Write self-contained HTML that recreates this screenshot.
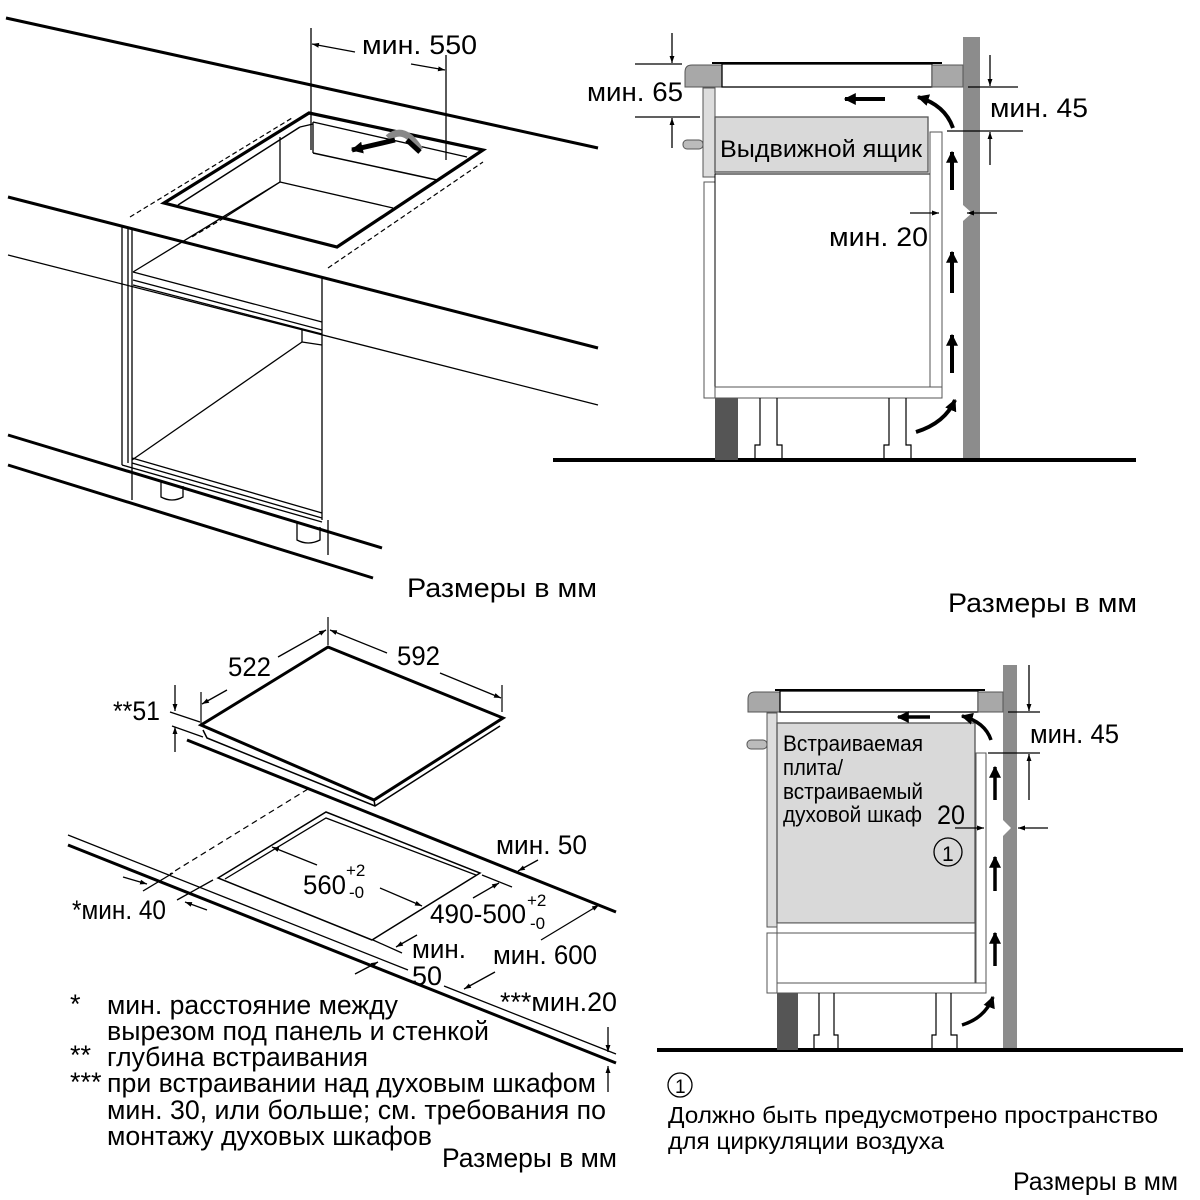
<!DOCTYPE html>
<html><head><meta charset="utf-8"><style>
html,body{margin:0;padding:0;background:#fff;}
svg{display:block;}
text{font-family:"Liberation Sans","DejaVu Sans",sans-serif;fill:#000;}
</style></head><body>
<svg width="1200" height="1200" viewBox="0 0 1200 1200" xmlns="http://www.w3.org/2000/svg">
<defs>
<marker id="a" viewBox="0 0 10 10" refX="10" refY="5" markerWidth="7" markerHeight="7" markerUnits="userSpaceOnUse" orient="auto"><path d="M0,1.5 L10,5 L0,8.5 z" fill="#000"/></marker>
<marker id="b" viewBox="0 0 10 10" refX="9" refY="5" markerWidth="12" markerHeight="12" markerUnits="userSpaceOnUse" orient="auto"><path d="M0,0 L10,5 L0,10 z" fill="#000"/></marker>
</defs>
<g fill="none" stroke="#000" stroke-linecap="butt">
<line x1="6" y1="18" x2="598" y2="148" stroke-width="3"/>
<line x1="8" y1="197" x2="598" y2="348" stroke-width="3"/>
<line x1="8" y1="255" x2="598" y2="405" stroke-width="1.3"/>
<line x1="8" y1="435" x2="382" y2="548" stroke-width="3"/>
<line x1="8" y1="465" x2="373" y2="578" stroke-width="3"/>
<polygon points="164,203 309,113 483,150 337,247" stroke-width="3.2" fill="#fff"/>
<line x1="178" y1="205" x2="300" y2="127" stroke-width="1.5"/>
<line x1="313" y1="122" x2="467" y2="157" stroke-width="1.3"/>
<line x1="313" y1="153" x2="437" y2="180" stroke-width="1.5"/>
<line x1="313" y1="122" x2="313" y2="153" stroke-width="1.3"/>
<line x1="300" y1="127" x2="313" y2="124" stroke-width="1.3"/>
<line x1="280" y1="137" x2="280" y2="182" stroke-width="1.3"/>
<line x1="280" y1="182" x2="393" y2="208" stroke-width="1.3"/>
<line x1="280" y1="182" x2="224" y2="218" stroke-width="1.3"/>
<line x1="224" y1="218" x2="190" y2="238" stroke-width="1.3" stroke-dasharray="5,3"/>
<line x1="130" y1="217" x2="292" y2="118" stroke-width="1.2" stroke-dasharray="5,3"/>
<line x1="328" y1="268" x2="483" y2="162" stroke-width="1.2" stroke-dasharray="5,3"/>
<line x1="311" y1="28" x2="311" y2="150" stroke-width="1.3"/>
<line x1="446" y1="55" x2="446" y2="160" stroke-width="1.3"/>
<line x1="355" y1="52" x2="312" y2="44" stroke-width="1.3" marker-end="url(#a)"/>
<line x1="411" y1="64" x2="445" y2="70" stroke-width="1.3" marker-end="url(#a)"/>
<path d="M388,138 Q404,124 420,150" stroke="#888" stroke-width="7"/>
<path d="M407,140 L420,152" stroke="#000" stroke-width="5"/>
<line x1="395" y1="140" x2="352" y2="150" stroke-width="5" marker-end="url(#b)"/>
<line x1="122" y1="225" x2="122" y2="465" stroke-width="1.3"/>
<line x1="128" y1="227" x2="128" y2="463" stroke-width="1.3"/>
<line x1="132" y1="228" x2="132" y2="500" stroke-width="1.3"/>
<line x1="322" y1="278" x2="322" y2="520" stroke-width="1.3"/>
<line x1="328" y1="520" x2="328" y2="555" stroke-width="1.3"/>
<line x1="133" y1="272" x2="322" y2="322" stroke-width="1.3"/>
<line x1="133" y1="280" x2="322" y2="330" stroke-width="1.3"/>
<line x1="133" y1="285" x2="322" y2="334" stroke-width="1.3"/>
<line x1="133" y1="272" x2="280" y2="182" stroke-width="1.3"/>
<line x1="302" y1="330" x2="302" y2="342" stroke-width="1.3"/>
<line x1="302" y1="342" x2="322" y2="345" stroke-width="1.3"/>
<line x1="132" y1="460" x2="302" y2="342" stroke-width="1.3"/>
<line x1="132" y1="458" x2="322" y2="513" stroke-width="1.3"/>
<line x1="132" y1="463" x2="322" y2="518" stroke-width="1.3"/>
<line x1="122" y1="465" x2="322" y2="522" stroke-width="1.3"/>
<path d="M161,482 L161,497 Q172,503 183,497 L183,486" stroke-width="1.3"/>
<path d="M297,523 L297,540 Q308,546 320,540 L320,527" stroke-width="1.3"/>

<rect x="963" y="37" width="17" height="423" fill="#8c8c8c" stroke="none"/>
<polygon points="963,205 972,213 963,221" fill="#fff" stroke="none"/>
<line x1="553" y1="460" x2="1136" y2="460" stroke-width="4"/>
<path d="M692,65 L722,65 L722,87 L685,87 L685,72 Q685,65 692,65 z" fill="#a8a8a8" stroke="#555" stroke-width="1"/>
<rect x="722" y="64" width="210" height="23" fill="#fff" stroke="#000" stroke-width="1.3"/>
<line x1="712" y1="63" x2="942" y2="63" stroke-width="2"/>
<rect x="932" y="65" width="31" height="22" fill="#a8a8a8" stroke="#555" stroke-width="1"/>
<rect x="703" y="88" width="12" height="89" fill="#ddd" stroke="#555" stroke-width="1"/>
<rect x="683" y="140" width="20" height="9" rx="4" fill="#bbb" stroke="#555" stroke-width="1"/>
<rect x="715" y="117" width="213" height="55" fill="#d9d9d9" stroke="#555" stroke-width="1.3"/>
<line x1="715" y1="174" x2="930" y2="174" stroke-width="1"/>
<rect x="704" y="182" width="11" height="216" fill="#fff" stroke="#555" stroke-width="1"/>
<line x1="715" y1="174" x2="715" y2="387" stroke-width="1"/>
<rect x="930" y="132" width="12" height="266" fill="#fff" stroke="#555" stroke-width="1"/>
<rect x="715" y="387" width="227" height="11" fill="#fff" stroke="#555" stroke-width="1"/>
<rect x="715" y="398" width="23" height="62" fill="#555" stroke="none"/>
<path d="M760,398 L760,445 L755,445 L755,460 M777,398 L777,445 L782,445 L782,460" stroke-width="1.2"/>
<path d="M889,398 L889,445 L884,445 L884,460 M906,398 L906,445 L911,445 L911,460" stroke-width="1.2"/>
<line x1="885" y1="99" x2="845" y2="99" stroke-width="4" marker-end="url(#b)"/>
<path d="M953,128 Q945,105 918,97" stroke-width="4" marker-end="url(#b)"/>
<line x1="952" y1="190" x2="952" y2="152" stroke-width="4" marker-end="url(#b)"/>
<line x1="952" y1="293" x2="952" y2="252" stroke-width="4" marker-end="url(#b)"/>
<line x1="952" y1="373" x2="952" y2="335" stroke-width="4" marker-end="url(#b)"/>
<path d="M916,432 Q945,423 955,400" stroke-width="4" marker-end="url(#b)"/>
<line x1="635" y1="64" x2="682" y2="64" stroke-width="1.3"/>
<line x1="635" y1="117" x2="700" y2="117" stroke-width="1.3"/>
<line x1="672" y1="33" x2="672" y2="63" stroke-width="1.3" marker-end="url(#a)"/>
<line x1="672" y1="148" x2="672" y2="118" stroke-width="1.3" marker-end="url(#a)"/>
<line x1="968" y1="87" x2="1018" y2="87" stroke-width="1.3"/>
<line x1="947" y1="131" x2="1023" y2="131" stroke-width="1.3"/>
<line x1="990" y1="55" x2="990" y2="86" stroke-width="1.3" marker-end="url(#a)"/>
<line x1="990" y1="165" x2="990" y2="132" stroke-width="1.3" marker-end="url(#a)"/>
<line x1="910" y1="213" x2="939" y2="213" stroke-width="1.3" marker-end="url(#a)"/>
<line x1="997" y1="213" x2="967" y2="213" stroke-width="1.3" marker-end="url(#a)"/>

<polygon points="201,725 328,647 503,718 374,800" fill="#fff" stroke-width="3"/>
<path d="M203,730 L207,738 L375,806 L500,726" stroke-width="1.5"/>
<line x1="374" y1="800" x2="375" y2="806" stroke-width="1.5"/>
<line x1="187" y1="740" x2="616" y2="912" stroke-width="3"/>
<line x1="308" y1="789" x2="170" y2="874" stroke-width="1.2" stroke-dasharray="6,4"/>
<line x1="201" y1="692" x2="201" y2="725" stroke-width="1.2"/>
<line x1="328" y1="617" x2="328" y2="645" stroke-width="1.2"/>
<line x1="502" y1="685" x2="502" y2="712" stroke-width="1.2"/>
<line x1="227" y1="690" x2="202" y2="704" stroke-width="1.3" marker-end="url(#a)"/>
<line x1="278" y1="657" x2="326" y2="630" stroke-width="1.3" marker-end="url(#a)"/>
<line x1="387" y1="653" x2="330" y2="630" stroke-width="1.3" marker-end="url(#a)"/>
<line x1="440" y1="673" x2="501" y2="698" stroke-width="1.3" marker-end="url(#a)"/>
<line x1="175" y1="685" x2="175" y2="711" stroke-width="1.3" marker-end="url(#a)"/>
<line x1="175" y1="752" x2="175" y2="727" stroke-width="1.3" marker-end="url(#a)"/>
<line x1="170" y1="712" x2="200" y2="722" stroke-width="1.3"/>
<line x1="172" y1="726" x2="203" y2="737" stroke-width="1.3"/>
<line x1="68" y1="835" x2="408" y2="970" stroke-width="1.3"/>
<line x1="444" y1="986" x2="616" y2="1054" stroke-width="1.3"/>
<line x1="68" y1="845" x2="616" y2="1063" stroke-width="3"/>
<polygon points="218,878 326,812 480,873 372,940" fill="#fff" stroke-width="1.5"/>
<polyline points="225,879 326,818 476,875" stroke-width="1.3"/>
<line x1="143" y1="891" x2="173" y2="873" stroke-width="1.3"/>
<line x1="177" y1="900" x2="213" y2="880" stroke-width="1.3"/>
<line x1="123" y1="877" x2="147" y2="884" stroke-width="1.3" marker-end="url(#a)"/>
<line x1="207" y1="910" x2="185" y2="902" stroke-width="1.3" marker-end="url(#a)"/>
<line x1="317" y1="865" x2="272" y2="847" stroke-width="1.3" marker-end="url(#a)"/>
<line x1="380" y1="888" x2="422" y2="906" stroke-width="1.3" marker-end="url(#a)"/>
<line x1="482" y1="875" x2="512" y2="887" stroke-width="1.3"/>
<line x1="373" y1="940" x2="402" y2="953" stroke-width="1.3"/>
<line x1="473" y1="898" x2="499" y2="883" stroke-width="1.3" marker-end="url(#a)"/>
<line x1="417" y1="935" x2="396" y2="947" stroke-width="1.3" marker-end="url(#a)"/>
<line x1="538" y1="860" x2="518" y2="871" stroke-width="1.3" marker-end="url(#a)"/>
<line x1="541" y1="940" x2="599" y2="905" stroke-width="1.3" marker-end="url(#a)"/>
<line x1="495" y1="972" x2="464" y2="989" stroke-width="1.3" marker-end="url(#a)"/>
<line x1="355" y1="974" x2="378" y2="962" stroke-width="1.3" marker-end="url(#a)"/>
<line x1="608" y1="1027" x2="608" y2="1052" stroke-width="1.3" marker-end="url(#a)"/>
<line x1="608" y1="1092" x2="608" y2="1066" stroke-width="1.3" marker-end="url(#a)"/>

<rect x="1003" y="665" width="14" height="385" fill="#8c8c8c" stroke="none"/>
<polygon points="1003,820 1011,828 1003,836" fill="#fff" stroke="none"/>
<line x1="657" y1="1050" x2="1183" y2="1050" stroke-width="4"/>
<path d="M755,692 L780,692 L780,712 L748,712 L748,699 Q748,692 755,692 z" fill="#a8a8a8" stroke="#555" stroke-width="1"/>
<rect x="780" y="691" width="198" height="21" fill="#fff" stroke="#000" stroke-width="1.3"/>
<line x1="775" y1="690" x2="985" y2="690" stroke-width="2"/>
<rect x="978" y="692" width="25" height="20" fill="#a8a8a8" stroke="#555" stroke-width="1"/>
<rect x="767" y="713" width="10" height="214" fill="#ddd" stroke="#555" stroke-width="1"/>
<rect x="747" y="740" width="20" height="9" rx="4" fill="#bbb" stroke="#555" stroke-width="1"/>
<rect x="777" y="723" width="198" height="200" fill="#d9d9d9" stroke="#555" stroke-width="1.3"/>
<rect x="777" y="923" width="198" height="10" fill="#fff" stroke="#555" stroke-width="1"/>
<rect x="767" y="933" width="10" height="60" fill="#fff" stroke="#555" stroke-width="1"/>
<rect x="777" y="933" width="198" height="50" fill="#fff" stroke="#555" stroke-width="1"/>
<rect x="976" y="753" width="10" height="230" fill="#fff" stroke="#555" stroke-width="1"/>
<rect x="777" y="983" width="209" height="10" fill="#fff" stroke="#555" stroke-width="1"/>
<rect x="777" y="993" width="21" height="57" fill="#555" stroke="none"/>
<path d="M819,993 L819,1035 L814,1035 L814,1050 M834,993 L834,1035 L838,1035 L838,1050" stroke-width="1.2"/>
<path d="M936,993 L936,1035 L932,1035 L932,1050 M951,993 L951,1035 L957,1035 L957,1050" stroke-width="1.2"/>
<line x1="930" y1="717" x2="898" y2="717" stroke-width="3.5" marker-end="url(#b)"/>
<path d="M991,740 Q985,722 962,716" stroke-width="3.5" marker-end="url(#b)"/>
<line x1="995" y1="800" x2="995" y2="767" stroke-width="3.5" marker-end="url(#b)"/>
<line x1="995" y1="891" x2="995" y2="857" stroke-width="3.5" marker-end="url(#b)"/>
<line x1="995" y1="966" x2="995" y2="933" stroke-width="3.5" marker-end="url(#b)"/>
<path d="M962,1025 Q985,1018 993,997" stroke-width="3.5" marker-end="url(#b)"/>
<line x1="1008" y1="712" x2="1040" y2="712" stroke-width="1.3"/>
<line x1="988" y1="753" x2="1040" y2="753" stroke-width="1.3"/>
<line x1="1029" y1="665" x2="1029" y2="711" stroke-width="1.3" marker-end="url(#a)"/>
<line x1="1029" y1="800" x2="1029" y2="754" stroke-width="1.3" marker-end="url(#a)"/>
<line x1="955" y1="828" x2="984" y2="828" stroke-width="1.3" marker-end="url(#a)"/>
<line x1="1048" y1="828" x2="1018" y2="828" stroke-width="1.3" marker-end="url(#a)"/>
<circle cx="948" cy="852" r="14" stroke-width="1.3"/>
<circle cx="680" cy="1085" r="12" stroke-width="1.3"/>
</g>

<g font-size="27">
<text x="362" y="54" textLength="115" lengthAdjust="spacingAndGlyphs">мин. 550</text>
<text x="407" y="597" textLength="190" lengthAdjust="spacingAndGlyphs">Размеры в мм</text>
<text x="587" y="101" textLength="96" lengthAdjust="spacingAndGlyphs">мин. 65</text>
<text x="990" y="117" textLength="98" lengthAdjust="spacingAndGlyphs">мин. 45</text>
<text x="829" y="246" textLength="99" lengthAdjust="spacingAndGlyphs">мин. 20</text>
<text x="720" y="157" font-size="24" textLength="202" lengthAdjust="spacingAndGlyphs">Выдвижной ящик</text>
<text x="948" y="612" textLength="189" lengthAdjust="spacingAndGlyphs">Размеры в мм</text>

<text x="113" y="720" textLength="47" lengthAdjust="spacingAndGlyphs">**51</text>
<text x="228" y="676" textLength="43" lengthAdjust="spacingAndGlyphs">522</text>
<text x="397" y="665" textLength="43" lengthAdjust="spacingAndGlyphs">592</text>
<text x="496" y="854" textLength="91" lengthAdjust="spacingAndGlyphs">мин. 50</text>
<text x="303" y="894" textLength="43" lengthAdjust="spacingAndGlyphs">560</text>
<text x="346" y="876" font-size="17">+2</text>
<text x="349" y="898" font-size="17">-0</text>
<text x="430" y="923" textLength="96" lengthAdjust="spacingAndGlyphs">490-500</text>
<text x="527" y="906" font-size="17">+2</text>
<text x="530" y="929" font-size="17">-0</text>
<text x="72" y="919" textLength="94" lengthAdjust="spacingAndGlyphs">*мин. 40</text>
<text x="412" y="958" textLength="54" lengthAdjust="spacingAndGlyphs">мин.</text>
<text x="412" y="985" textLength="30" lengthAdjust="spacingAndGlyphs">50</text>
<text x="493" y="964" textLength="104" lengthAdjust="spacingAndGlyphs">мин. 600</text>
<text x="500" y="1011" textLength="117" lengthAdjust="spacingAndGlyphs">***мин.20</text>

<text x="70" y="1013">*</text>
<text x="107" y="1014" textLength="291" lengthAdjust="spacingAndGlyphs">мин. расстояние между</text>
<text x="107" y="1040" textLength="382" lengthAdjust="spacingAndGlyphs">вырезом под панель и стенкой</text>
<text x="70" y="1064">**</text>
<text x="107" y="1066" textLength="261" lengthAdjust="spacingAndGlyphs">глубина встраивания</text>
<text x="70" y="1091">***</text>
<text x="107" y="1092" textLength="489" lengthAdjust="spacingAndGlyphs">при встраивании над духовым шкафом</text>
<text x="107" y="1119" textLength="499" lengthAdjust="spacingAndGlyphs">мин. 30, или больше; см. требования по</text>
<text x="107" y="1145" textLength="325" lengthAdjust="spacingAndGlyphs">монтажу духовых шкафов</text>
<text x="442" y="1167" textLength="175" lengthAdjust="spacingAndGlyphs">Размеры в мм</text>

<text x="1030" y="743" textLength="89" lengthAdjust="spacingAndGlyphs">мин. 45</text>
<g font-size="22">
<text x="783" y="751" textLength="140" lengthAdjust="spacingAndGlyphs">Встраиваемая</text>
<text x="783" y="775" textLength="60" lengthAdjust="spacingAndGlyphs">плита/</text>
<text x="783" y="799" textLength="140" lengthAdjust="spacingAndGlyphs">встраиваемый</text>
<text x="783" y="822" textLength="139" lengthAdjust="spacingAndGlyphs">духовой шкаф</text>
</g>
<text x="937" y="824" textLength="28" lengthAdjust="spacingAndGlyphs">20</text>
<text x="942" y="861" font-size="21">1</text>
<text x="675" y="1093" font-size="19">1</text>
<text x="668" y="1123" font-size="23" textLength="490" lengthAdjust="spacingAndGlyphs">Должно быть предусмотрено пространство</text>
<text x="668" y="1149" font-size="23" textLength="276" lengthAdjust="spacingAndGlyphs">для циркуляции воздуха</text>
<text x="1013" y="1190" font-size="25" textLength="165" lengthAdjust="spacingAndGlyphs">Размеры в мм</text>
</g>
</svg>
</body></html>
